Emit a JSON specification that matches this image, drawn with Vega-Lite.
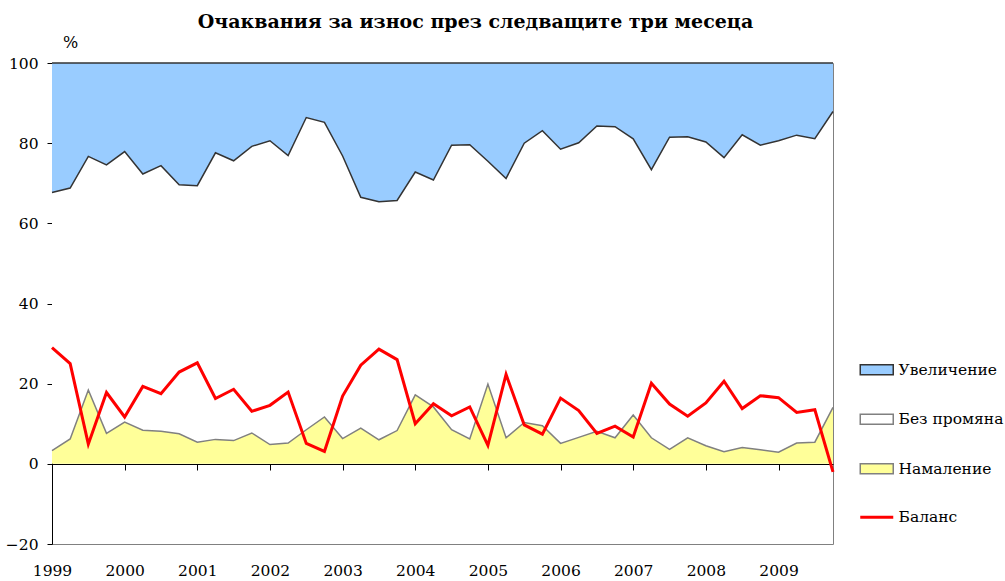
{
  "$schema": "https://vega.github.io/schema/vega-lite/v6.json",
  "autosize": {"type": "none"},
  "width": 781,
  "height": 481,
  "padding": {"left": 52, "top": 63, "right": 172, "bottom": 37},
  "background": "white",
  "config": {
    "view": {"stroke": "#808080", "strokeWidth": 1},
    "font": "DejaVu Serif"
  },
  "title": {
    "text": "Очаквания за износ през следващите три месеца",
    "font": "DejaVu Serif",
    "fontSize": 19,
    "fontWeight": "bold",
    "color": "#000000",
    "anchor": "middle",
    "dx": 33,
    "offset": 2
  },
  "datasets": {
    "ranks": [
      {"series": "Намаление", "rank": 1},
      {"series": "Без промяна", "rank": 2},
      {"series": "Увеличение", "rank": 3}
    ]
  },
  "data": {
    "values": [
      {"q": "1999 Q1", "Увеличение": 32.3, "Без промяна": 64.4, "Намаление": 3.3, "Баланс": 29.0},
      {"q": "1999 Q2", "Увеличение": 31.2, "Без промяна": 62.6, "Намаление": 6.2, "Баланс": 25.0},
      {"q": "1999 Q3", "Увеличение": 23.3, "Без промяна": 58.3, "Намаление": 18.4, "Баланс": 4.9},
      {"q": "1999 Q4", "Увеличение": 25.4, "Без промяна": 67.0, "Намаление": 7.6, "Баланс": 17.8},
      {"q": "2000 Q1", "Увеличение": 22.1, "Без промяна": 67.5, "Намаление": 10.4, "Баланс": 11.7},
      {"q": "2000 Q2", "Увеличение": 27.7, "Без промяна": 63.9, "Намаление": 8.4, "Баланс": 19.3},
      {"q": "2000 Q3", "Увеличение": 25.6, "Без промяна": 66.3, "Намаление": 8.1, "Баланс": 17.5},
      {"q": "2000 Q4", "Увеличение": 30.4, "Без промяна": 62.1, "Намаление": 7.5, "Баланс": 22.9},
      {"q": "2001 Q1", "Увеличение": 30.6, "Без промяна": 64.0, "Намаление": 5.4, "Баланс": 25.2},
      {"q": "2001 Q2", "Увеличение": 22.4, "Без промяна": 71.5, "Намаление": 6.1, "Баланс": 16.3},
      {"q": "2001 Q3", "Увеличение": 24.4, "Без промяна": 69.8, "Намаление": 5.8, "Баланс": 18.6},
      {"q": "2001 Q4", "Увеличение": 20.8, "Без промяна": 71.5, "Намаление": 7.7, "Баланс": 13.1},
      {"q": "2002 Q1", "Увеличение": 19.4, "Без промяна": 75.8, "Намаление": 4.8, "Баланс": 14.6},
      {"q": "2002 Q2", "Увеличение": 23.1, "Без промяна": 71.7, "Намаление": 5.2, "Баланс": 17.9},
      {"q": "2002 Q3", "Увеличение": 13.6, "Без промяна": 77.9, "Намаление": 8.5, "Баланс": 5.1},
      {"q": "2002 Q4", "Увеличение": 14.8, "Без промяна": 73.5, "Намаление": 11.7, "Баланс": 3.1},
      {"q": "2003 Q1", "Увеличение": 23.2, "Без промяна": 70.5, "Намаление": 6.3, "Баланс": 16.9},
      {"q": "2003 Q2", "Увеличение": 33.5, "Без промяна": 57.6, "Намаление": 8.9, "Баланс": 24.6},
      {"q": "2003 Q3", "Увеличение": 34.6, "Без промяна": 59.4, "Намаление": 6.0, "Баланс": 28.6},
      {"q": "2003 Q4", "Увеличение": 34.3, "Без промяна": 57.4, "Намаление": 8.3, "Баланс": 26.0},
      {"q": "2004 Q1", "Увеличение": 27.2, "Без промяна": 55.6, "Намаление": 17.2, "Баланс": 10.0},
      {"q": "2004 Q2", "Увеличение": 29.2, "Без промяна": 56.6, "Намаление": 14.2, "Баланс": 15.0},
      {"q": "2004 Q3", "Увеличение": 20.5, "Без промяна": 71.0, "Намаление": 8.5, "Баланс": 12.0},
      {"q": "2004 Q4", "Увеличение": 20.4, "Без промяна": 73.4, "Намаление": 6.2, "Баланс": 14.2},
      {"q": "2005 Q1", "Увеличение": 24.5, "Без промяна": 55.6, "Намаление": 19.9, "Баланс": 4.6},
      {"q": "2005 Q2", "Увеличение": 28.8, "Без промяна": 64.7, "Намаление": 6.5, "Баланс": 22.3},
      {"q": "2005 Q3", "Увеличение": 20.0, "Без промяна": 69.7, "Намаление": 10.3, "Баланс": 9.7},
      {"q": "2005 Q4", "Увеличение": 16.9, "Без промяна": 73.6, "Намаление": 9.5, "Баланс": 7.4},
      {"q": "2006 Q1", "Увеличение": 21.5, "Без промяна": 73.4, "Намаление": 5.1, "Баланс": 16.4},
      {"q": "2006 Q2", "Увеличение": 19.9, "Без промяна": 73.5, "Намаление": 6.6, "Баланс": 13.3},
      {"q": "2006 Q3", "Увеличение": 15.7, "Без промяна": 76.2, "Намаление": 8.1, "Баланс": 7.6},
      {"q": "2006 Q4", "Увеличение": 15.9, "Без промяна": 77.6, "Намаление": 6.5, "Баланс": 9.4},
      {"q": "2007 Q1", "Увеличение": 18.9, "Без промяна": 68.9, "Намаление": 12.2, "Баланс": 6.7},
      {"q": "2007 Q2", "Увеличение": 26.6, "Без промяна": 66.9, "Намаление": 6.5, "Баланс": 20.1},
      {"q": "2007 Q3", "Увеличение": 18.5, "Без промяна": 77.9, "Намаление": 3.6, "Баланс": 14.9},
      {"q": "2007 Q4", "Увеличение": 18.4, "Без промяна": 75.1, "Намаление": 6.5, "Баланс": 11.9},
      {"q": "2008 Q1", "Увеличение": 19.7, "Без промяна": 75.8, "Намаление": 4.5, "Баланс": 15.2},
      {"q": "2008 Q2", "Увеличение": 23.6, "Без промяна": 73.4, "Намаление": 3.0, "Баланс": 20.6},
      {"q": "2008 Q3", "Увеличение": 17.9, "Без промяна": 78.0, "Намаление": 4.1, "Баланс": 13.8},
      {"q": "2008 Q4", "Увеличение": 20.5, "Без промяна": 76.0, "Намаление": 3.5, "Баланс": 17.0},
      {"q": "2009 Q1", "Увеличение": 19.4, "Без промяна": 77.7, "Намаление": 2.9, "Баланс": 16.5},
      {"q": "2009 Q2", "Увеличение": 18.0, "Без промяна": 76.8, "Намаление": 5.2, "Баланс": 12.8},
      {"q": "2009 Q3", "Увеличение": 18.9, "Без промяна": 75.7, "Намаление": 5.4, "Баланс": 13.5},
      {"q": "2009 Q4", "Увеличение": 12.1, "Без промяна": 73.8, "Намаление": 14.1, "Баланс": -2.0}
    ]
  },
  "encoding": {
    "x": {
      "field": "q",
      "type": "ordinal",
      "sort": null,
      "scale": {"type": "point", "padding": 0},
      "axis": {
        "title": null,
        "values": ["1999 Q1", "2000 Q1", "2001 Q1", "2002 Q1", "2003 Q1", "2004 Q1", "2005 Q1", "2006 Q1", "2007 Q1", "2008 Q1", "2009 Q1"],
        "labelExpr": "substring(datum.value, 0, 4)",
        "labelAngle": 0,
        "offset": -80,
        "domainColor": "#000000",
        "domainWidth": 1,
        "tickColor": "#000000",
        "tickSize": 6,
        "labelPadding": 93,
        "labelFont": "DejaVu Serif",
        "labelFontSize": 15.5,
        "labelColor": "#000000",
        "labelAlign": "center",
        "labelBaseline": "top",
        "grid": false
      }
    }
  },
  "layer": [
    {
      "transform": [
        {"fold": ["Увеличение", "Без промяна", "Намаление"], "as": ["series", "value"]},
        {"lookup": "series", "from": {"data": {"name": "ranks"}, "key": "series", "fields": ["rank"]}}
      ],
      "mark": {"type": "area", "opacity": 1},
      "encoding": {
        "y": {
          "field": "value",
          "type": "quantitative",
          "stack": "zero",
          "scale": {"domain": [-20, 100], "nice": false, "zero": false},
          "axis": {
            "values": [-20, 0, 20, 40, 60, 80, 100],
            "title": "%",
            "titleAngle": 0,
            "titleX": 18,
            "titleY": -13,
            "titleAlign": "center",
            "titleBaseline": "bottom",
            "titleFont": "DejaVu Serif",
            "titleFontSize": 16,
            "titleFontWeight": "normal",
            "titleColor": "#000000",
            "domainColor": "#000000",
            "tickColor": "#000000",
            "tickSize": 5,
            "labelPadding": 9,
            "labelFont": "DejaVu Serif",
            "labelFontSize": 15.5,
            "labelColor": "#000000",
            "grid": false
          }
        },
        "order": {"field": "rank", "type": "quantitative", "sort": "ascending"},
        "fill": {
          "field": "series",
          "type": "nominal",
          "scale": {
            "domain": ["Увеличение", "Без промяна", "Намаление", "Баланс"],
            "range": ["#99CCFF", "#FFFFFF", "#FFFF99", "#FF0000"]
          },
          "legend": {
            "title": null,
            "orient": "none",
            "legendX": 809,
            "legendY": 299,
            "padding": 0,
            "symbolSize": 1089,
            "symbolOffset": 8,
            "rowPadding": 31.5,
            "labelOffset": 14,
            "labelFont": "DejaVu Serif",
            "labelFontSize": 15.5,
            "labelColor": "#000000",
            "symbolOpacity": 1,
            "encode": {
              "symbols": {
                "update": {
                  "size": {"value": 1089},
                  "shape": {"signal": "datum.value === 'Баланс' ? 'M-1,0H1' : 'M-1,-0.3H1V0.3H-1Z'"},
                  "stroke": {"signal": "datum.value === 'Баланс' ? '#FF0000' : (datum.value === 'Увеличение' ? '#333333' : '#808080')"},
                  "strokeWidth": {"signal": "datum.value === 'Баланс' ? 3 : 1.5"}
                }
              }
            }
          }
        }
      }
    },
    {
      "transform": [
        {"fold": ["Увеличение", "Без промяна", "Намаление"], "as": ["series", "value"]},
        {"lookup": "series", "from": {"data": {"name": "ranks"}, "key": "series", "fields": ["rank"]}}
      ],
      "mark": {"type": "line", "strokeWidth": 1.5},
      "encoding": {
        "y": {"field": "value", "type": "quantitative", "stack": "zero"},
        "order": {"field": "rank", "type": "quantitative", "sort": "ascending"},
        "stroke": {
          "field": "series",
          "type": "nominal",
          "scale": {
            "domain": ["Увеличение", "Без промяна", "Намаление"],
            "range": ["#333333", "#333333", "#808080"]
          },
          "legend": null
        }
      }
    },
    {
      "mark": {"type": "line", "color": "#FF0000", "strokeWidth": 3},
      "encoding": {
        "y": {"field": "Баланс", "type": "quantitative"}
      }
    }
  ]
}
